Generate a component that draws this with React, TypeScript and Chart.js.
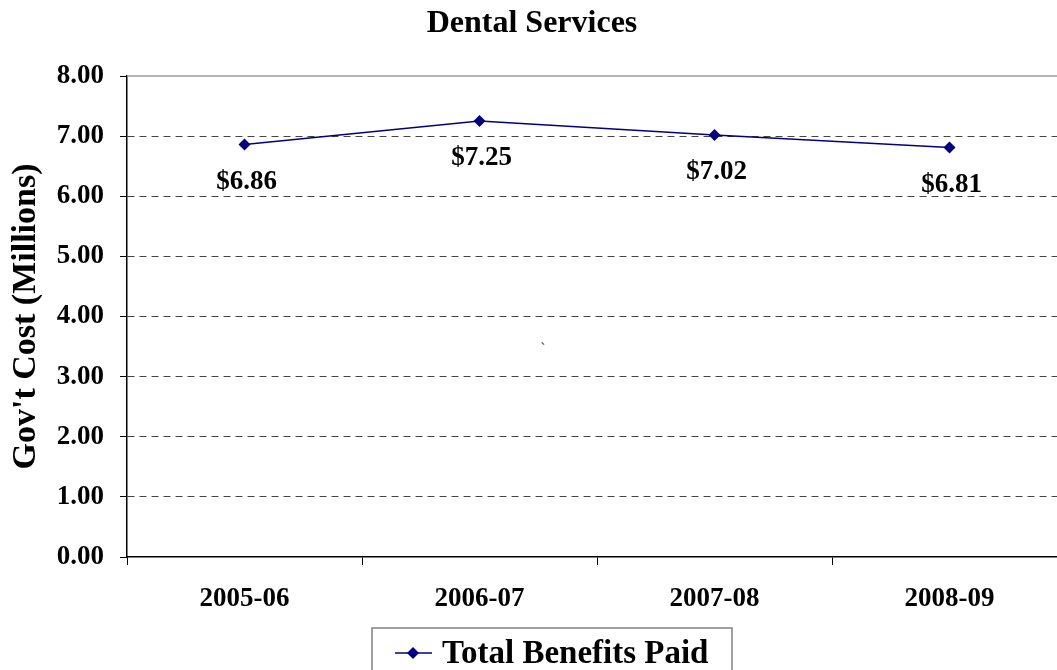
import React, { useEffect, useRef } from "react";
import { Chart, registerables } from "chart.js";
Chart.register(...registerables);

const categories = ["2005-06", "2006-07", "2007-08", "2008-09"];
const totalBenefitsPaid = [6.86, 7.25, 7.02, 6.81];
const seriesLabel = "Total Benefits Paid";
const chartTitle = "Dental Services";
const yAxisTitle = "Gov't Cost (Millions)";
const yMin = 0;
const yMax = 8;
const yStep = 1;

const FONT = "'Liberation Serif', 'Times New Roman', serif";
const NAVY = "#000080";
const CANVAS_W = 1073;

export default function App() {
  const ref = useRef<HTMLCanvasElement>(null);
  useEffect(() => {
    document.body.style.overflow = "hidden";
    document.documentElement.style.overflow = "hidden";
    const canvas = ref.current;
    if (!canvas) return;

    const framePlugin = {
      id: "frame",
      beforeDatasetsDraw(chart: any) {
        const { ctx, chartArea } = chart;
        ctx.save();
        ctx.strokeStyle = "#9a9a9a";
        ctx.lineWidth = 1.5;
        ctx.beginPath();
        ctx.moveTo(chartArea.left, chartArea.top);
        ctx.lineTo(chartArea.right, chartArea.top);
        ctx.stroke();
        ctx.restore();
      },
    };

    const valueLabels = {
      id: "valueLabels",
      afterDatasetsDraw(chart: any) {
        const ctx = chart.ctx;
        const meta = chart.getDatasetMeta(0);
        ctx.save();
        ctx.font = `bold 27px ${FONT}`;
        ctx.fillStyle = "#000";
        ctx.textAlign = "center";
        ctx.textBaseline = "middle";
        meta.data.forEach((pt: any, i: number) => {
          ctx.fillText("$" + totalBenefitsPaid[i].toFixed(2), pt.x + 2, pt.y + 37);
        });
        // stray mark present in the original
        ctx.font = `16px ${FONT}`;
        ctx.fillStyle = "#333";
        ctx.fillText("`", 543, 350);
        ctx.restore();
      },
    };

    const boxedLegend = {
      id: "boxedLegend",
      afterDraw(chart: any) {
        const ctx = chart.ctx;
        const left = 372;
        const top = 628;
        const width = 360;
        const height = 60;
        const cy = 653;
        ctx.save();
        ctx.strokeStyle = "#808080";
        ctx.lineWidth = 1.5;
        ctx.strokeRect(left, top, width, height);
        ctx.strokeStyle = NAVY;
        ctx.lineWidth = 1.5;
        ctx.beginPath();
        ctx.moveTo(395, cy);
        ctx.lineTo(432, cy);
        ctx.stroke();
        ctx.fillStyle = NAVY;
        ctx.beginPath();
        ctx.moveTo(413, cy - 6);
        ctx.lineTo(419, cy);
        ctx.lineTo(413, cy + 6);
        ctx.lineTo(407, cy);
        ctx.closePath();
        ctx.fill();
        ctx.fillStyle = "#000";
        ctx.font = `bold 33px ${FONT}`;
        ctx.textAlign = "left";
        ctx.textBaseline = "middle";
        ctx.fillText(chart.data.datasets[0].label, 442, cy + 1);
        ctx.restore();
      },
    };

    const chart = new Chart(canvas, {
      type: "line",
      data: {
        labels: categories,
        datasets: [
          {
            label: seriesLabel,
            data: totalBenefitsPaid,
            borderColor: NAVY,
            backgroundColor: NAVY,
            borderWidth: 1.5,
            pointStyle: "rectRot",
            pointRadius: 6,
            pointHoverRadius: 6,
            pointBorderWidth: 0,
            tension: 0,
          },
        ],
      },
      options: {
        responsive: false,
        animation: false,
        layout: { padding: 0 },
        plugins: {
          legend: { display: false },
          tooltip: { enabled: false },
          title: { display: false },
        },
        scales: {
          x: {
            offset: true,
            grid: {
              offset: true,
              drawOnChartArea: false,
              tickLength: 8,
              color: "#000",
              tickColor: "#000",
            },
            border: { color: "#000", width: 1.5 },
            ticks: {
              color: "#000",
              font: { family: FONT, size: 27, weight: "bold" },
              padding: 18,
              maxRotation: 0,
            },
            afterFit(scale: any) {
              scale.height = 113;
            },
          },
          y: {
            min: yMin,
            max: yMax,
            ticks: {
              stepSize: yStep,
              color: "#000",
              font: { family: FONT, size: 27, weight: "bold" },
              padding: 16,
              callback: (v: any) => Number(v).toFixed(2),
            },
            grid: {
              color: (c: any) =>
                c.tick && (c.tick.value === yMin || c.tick.value === yMax) ? "rgba(0,0,0,0)" : "#444",
              tickColor: "#000",
              tickLength: 7,
              tickBorderDash: [],
              lineWidth: 1,
            },
            border: { color: "#000", width: 1.5, dash: [7, 5] },
            title: {
              display: true,
              text: yAxisTitle,
              color: "#000",
              font: { family: FONT, size: 34, weight: "bold" },
              padding: { top: 6, bottom: 0 },
            },
            afterFit(scale: any) {
              scale.width = 127;
            },
          },
        },
      },
      plugins: [
        {
          id: "titleTop",
          beforeLayout(chart: any) {
            // reserve the title band
            chart.options.layout.padding = { top: 76, left: 0, right: 0, bottom: 0 };
          },
          afterDraw(chart: any) {
            const ctx = chart.ctx;
            ctx.save();
            ctx.font = `bold 32px ${FONT}`;
            ctx.fillStyle = "#000";
            ctx.textAlign = "center";
            ctx.textBaseline = "middle";
            ctx.fillText(chartTitle, 532, 24);
            ctx.restore();
          },
        },
        framePlugin,
        valueLabels,
        boxedLegend,
      ],
    });
    return () => chart.destroy();
  }, []);

  return (
    <div style={{ position: "fixed", left: 0, top: 0, width: CANVAS_W, height: 670, background: "#fff" }}>
      <canvas ref={ref} width={CANVAS_W} height={670} style={{ display: "block" }} />
    </div>
  );
}
